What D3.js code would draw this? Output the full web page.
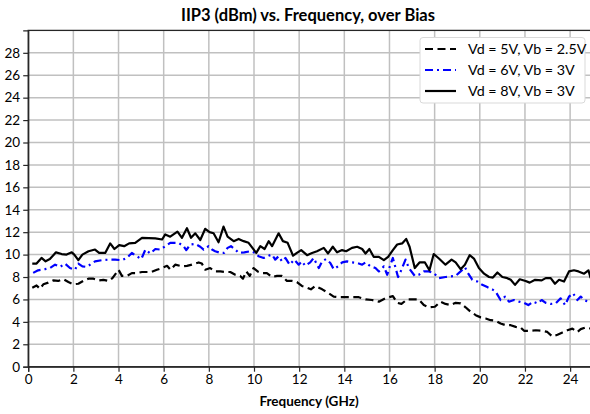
<!DOCTYPE html>
<html><head><meta charset="utf-8">
<script src="https://cdn.jsdelivr.net/npm/d3@7/dist/d3.min.js"></script>
<style>html,body{margin:0;padding:0;background:#fff;overflow:hidden}svg{display:block;font-family:Lato,"Open Sans",sans-serif}</style>
</head><body>
<svg id="c" width="590" height="414"></svg>
<script>
const title = "IIP3 (dBm) vs. Frequency, over Bias";
const xLabel = "Frequency (GHz)";
const xTicks = [0,2,4,6,8,10,12,14,16,18,20,22,24];
const yTicks = [0,2,4,6,8,10,12,14,16,18,20,22,24,26,28];
const seriesNames = ["Vd = 5V, Vb = 2.5V", "Vd = 6V, Vb = 3V", "Vd = 8V, Vb = 3V"];

// Vd = 5V, Vb = 2.5V (dashed black)
const freq5V = [0.18,0.37,0.52,0.67,0.89,1.11,1.33,1.56,1.78,2.0,2.22,2.44,2.67,2.89,3.11,3.33,3.56,3.73,4.0,4.15,4.37,4.59,4.81,5.04,5.26,5.45,5.7,5.93,6.15,6.3,6.51,6.81,7.03,7.25,7.55,7.69,7.84,8.06,8.28,8.51,8.73,8.95,9.17,9.39,9.51,9.66,9.81,9.98,10.16,10.35,10.57,10.8,11.02,11.24,11.46,11.68,11.9,12.12,12.35,12.52,12.71,13.02,13.31,13.53,13.75,14.05,14.34,14.64,14.94,15.23,15.53,15.82,16.15,16.34,16.53,16.78,17.08,17.3,17.52,17.74,18.01,18.26,18.48,18.7,18.93,19.15,19.37,19.59,19.82,20.04,20.26,20.48,20.7,20.92,21.15,21.37,21.59,21.81,21.96,22.18,22.48,22.74,22.99,23.21,23.44,23.66,23.88,24.1,24.32,24.47,24.69,24.91];
const iip3_5V = [7.05,7.25,6.95,7.35,7.5,7.7,7.65,7.8,7.55,7.35,7.4,7.65,7.85,7.85,7.7,7.75,7.65,7.9,8.65,8.1,8.1,8.35,8.35,8.45,8.45,8.45,8.65,8.8,9.0,8.65,9.1,8.95,9.0,9.1,9.3,9.2,8.65,8.8,8.5,8.5,8.45,8.45,8.2,8.1,7.85,8.5,8.1,8.8,8.5,8.35,8.35,8.0,8.1,8.1,7.65,7.65,7.55,7.2,7.05,6.9,7.2,6.9,6.55,6.25,6.2,6.2,6.2,6.2,6.0,5.95,5.8,6.1,6.3,5.7,5.6,6.0,6.0,6.0,5.5,5.3,5.35,5.8,5.6,5.5,5.7,5.65,5.3,4.9,4.6,4.4,4.3,4.15,4.1,3.85,3.7,3.7,3.55,3.5,3.2,3.2,3.25,3.2,3.1,2.7,2.85,3.05,3.25,3.4,3.1,3.35,3.5,3.4];

// Vd = 6V, Vb = 3V (blue dash-dot)
const freq6V = [0.22,0.44,0.74,0.96,1.19,1.41,1.63,1.85,2.07,2.22,2.4,2.59,2.81,2.96,3.26,3.56,3.85,4.15,4.37,4.59,4.81,5.01,5.19,5.41,5.63,5.85,6.07,6.29,6.66,6.88,7.0,7.18,7.4,7.62,7.77,7.99,8.14,8.28,8.51,8.68,8.83,8.98,9.17,9.32,9.57,9.84,10.06,10.2,10.43,10.65,10.8,10.94,11.09,11.24,11.39,11.58,11.78,11.98,12.12,12.27,12.49,12.64,12.87,13.02,13.19,13.38,13.53,13.72,13.9,14.12,14.34,14.57,14.79,14.94,15.16,15.38,15.53,15.75,15.9,16.04,16.15,16.27,16.38,16.53,16.71,16.86,17.12,17.3,17.52,17.74,17.96,18.19,18.48,18.7,18.93,19.15,19.34,19.49,19.67,19.89,20.11,20.33,20.55,20.7,20.92,21.12,21.29,21.51,21.74,21.96,22.15,22.36,22.55,22.74,22.92,23.14,23.36,23.58,23.78,23.95,24.13,24.32,24.47,24.66,24.84];
const iip3_6V = [8.37,8.6,8.7,8.8,9.1,8.9,9.2,8.8,8.65,9.2,8.95,8.9,9.2,9.4,9.5,9.55,9.55,9.5,9.7,10.15,9.85,9.6,10.45,10.1,10.5,10.45,10.75,11.05,11.05,10.75,10.4,10.9,10.95,10.7,10.45,10.75,10.45,10.3,10.15,10.15,10.6,10.75,10.45,10.15,10.2,10.3,10.15,9.85,9.7,9.9,10.0,9.55,9.85,9.4,9.7,9.1,9.55,9.1,9.4,9.0,9.3,9.7,8.8,9.4,9.6,9.25,8.7,8.95,9.3,9.4,9.3,9.25,9.1,9.3,8.95,8.8,8.5,8.95,8.2,9.1,9.7,8.8,8.0,8.65,9.55,8.8,8.1,8.2,8.5,8.5,8.35,7.9,8.0,8.05,8.1,8.5,8.87,8.3,7.75,7.6,7.3,7.1,6.9,6.7,5.95,6.25,5.8,5.95,5.8,5.7,5.5,5.8,5.65,5.95,5.7,5.6,5.65,6.1,5.5,6.25,6.55,5.95,6.25,5.9,5.8];

// Vd = 8V, Vb = 3V (solid black)
const freq8V = [0.18,0.37,0.59,0.77,0.96,1.23,1.48,1.70,1.93,2.04,2.22,2.4,2.67,2.96,3.14,3.41,3.63,3.82,4.03,4.25,4.47,4.74,5.04,5.63,5.93,6.07,6.29,6.61,6.81,7.03,7.21,7.4,7.62,7.84,8.03,8.21,8.43,8.65,8.83,9.1,9.32,9.54,9.76,10.1,10.28,10.47,10.65,10.8,11.09,11.28,11.49,11.73,11.9,12.09,12.35,12.57,12.79,13.09,13.28,13.49,13.68,13.9,14.08,14.34,14.57,14.79,14.94,15.11,15.3,15.53,15.75,15.94,16.15,16.34,16.56,16.74,16.89,17.12,17.33,17.57,17.77,17.96,18.19,18.48,18.75,18.93,19.15,19.34,19.55,19.74,19.96,20.19,20.41,20.58,20.78,21.0,21.22,21.37,21.56,21.77,22.03,22.21,22.45,22.74,22.92,23.14,23.33,23.51,23.73,23.95,24.17,24.37,24.62,24.81,24.91];
const iip3_8V = [9.2,9.2,9.7,9.4,9.6,10.2,10.05,10.0,10.2,10.0,9.5,10.0,10.3,10.45,10.15,10.15,11.0,10.5,10.85,10.75,11.0,11.05,11.5,11.45,11.35,11.8,11.6,12.05,11.5,12.35,11.5,11.9,11.3,12.3,12.0,11.9,11.1,12.5,11.6,11.2,11.4,11.2,11.05,10.15,10.75,10.5,11.2,10.75,11.9,11.2,11.05,9.9,10.15,10.4,9.95,10.15,10.3,10.6,10.1,10.7,10.2,10.4,10.3,10.6,10.7,10.5,10.1,10.5,9.8,9.8,9.5,9.8,10.4,10.9,11.0,11.4,10.7,8.8,9.3,9.3,8.6,10.05,9.65,9.1,9.55,9.3,8.7,9.1,9.95,9.65,8.8,8.3,8.0,7.95,8.4,8.0,7.9,7.75,7.3,7.8,7.65,7.5,7.75,7.7,7.9,7.9,7.4,7.75,7.6,8.5,8.6,8.5,8.3,8.6,7.9];

const svg = d3.select("#c");
const x = d3.scaleLinear().domain([0, 25]).range([28.2, 592.7]);
const y = d3.scaleLinear().domain([0, 30]).range([366.7, 30.4]);

// grid
const grid = svg.append("g");
grid.selectAll("line.v").data(xTicks.filter(d => d > 0)).join("line")
  .attr("x1", d => x(d)).attr("x2", d => x(d)).attr("y1", y(0)).attr("y2", y(30))
  .attr("stroke", "#c0c0c0").attr("stroke-width", 1.5);
grid.selectAll("line.h").data(yTicks.filter(d => d > 0)).join("line")
  .attr("x1", x(0)).attr("x2", x(25)).attr("y1", d => y(d)).attr("y2", d => y(d))
  .attr("stroke", "#c0c0c0").attr("stroke-width", 1.5);

// frame
svg.append("rect").attr("x", x(0)).attr("y", y(30)).attr("width", x(25) - x(0)).attr("height", y(0) - y(30))
  .attr("fill", "none").attr("stroke", "#262626").attr("stroke-width", 1.3);

// axes
const xAxis = d3.axisBottom(x).tickValues(xTicks).tickSize(5).tickPadding(3).tickFormat(d3.format("d"));
const yAxis = d3.axisLeft(y).tickValues(yTicks).tickSize(5).tickPadding(3).tickFormat(d3.format("d"));
const gx = svg.append("g").attr("transform", `translate(0,${y(0)})`).call(xAxis);
const gy = svg.append("g").attr("transform", `translate(${x(0)},0)`).call(yAxis);
[gx, gy].forEach(g => {
  g.select(".domain").attr("stroke", "#262626").attr("stroke-width", 1.3);
  g.selectAll(".tick line").attr("stroke", "#262626").attr("stroke-width", 1.2);
  g.selectAll("text").attr("fill", "#000").style("font-size", "13.5px").style("font-family", "Lato");
});

// lines
const series = [
  {f: freq5V, v: iip3_5V, color: "#000", dash: "8,4.5"},
  {f: freq6V, v: iip3_6V, color: "#0000ff", dash: "8,4,2,4"},
  {f: freq8V, v: iip3_8V, color: "#000", dash: null}
];
const line = d3.line().x(d => x(d[0])).y(d => y(d[1]));
const plot = svg.append("g");
series.forEach(s => {
  plot.append("path").datum(s.f.map((f, i) => [f, s.v[i]]))
    .attr("d", line).attr("fill", "none").attr("stroke", s.color)
    .attr("stroke-width", 2.2).attr("stroke-linejoin", "round")
    .attr("stroke-dasharray", s.dash);
});

// title
svg.append("text").attr("x", 308).attr("y", 21).attr("text-anchor", "middle")
  .style("font-size", "16.5px").style("font-weight", "bold").text(title);
svg.append("text").attr("x", 309).attr("y", 406).attr("text-anchor", "middle")
  .style("font-size", "13.5px").style("font-weight", "bold").text(xLabel);

// legend
const lg = svg.append("g");
lg.append("rect").attr("x", 420).attr("y", 37.5).attr("width", 165).attr("height", 65.5).attr("rx", 3)
  .attr("fill", "#fff").attr("stroke", "#d9d9d9").attr("stroke-width", 1);
series.forEach((s, i) => {
  const yy = 49 + i * 21;
  lg.append("line").attr("x1", 425).attr("x2", 456).attr("y1", yy).attr("y2", yy)
    .attr("stroke", s.color).attr("stroke-width", 2.2).attr("stroke-dasharray", s.dash);
  lg.append("text").attr("x", 468).attr("y", yy + 5).style("font-size", "14.3px").text(seriesNames[i]);
});
</script>
</body></html>
